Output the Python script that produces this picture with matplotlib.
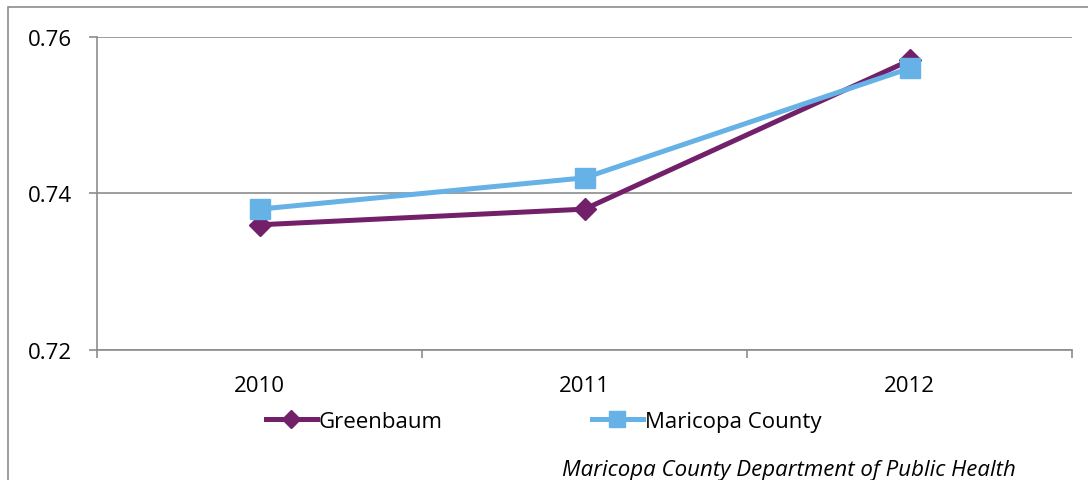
import numpy as np
import matplotlib
matplotlib.use('Agg')
import matplotlib.pyplot as plt
from matplotlib.patches import Rectangle

years = ['2010', '2011', '2012']
greenbaum = [0.736, 0.738, 0.757]
maricopa = [0.738, 0.742, 0.756]
y_ticks = [0.72, 0.74, 0.76]
source_note = 'Maricopa County Department of Public Health'

plt.rcParams['font.family'] = ['Open Sans', 'DejaVu Sans']

fig = plt.figure(figsize=(10.88, 4.81), dpi=100)
ax = fig.add_axes([0.0892, 0.2703, 0.8961, 0.6507])

# outer chart frame (cropped on right and bottom)
fig.patches.append(Rectangle((8 / 1088, -0.1), 1.2, 1 - 8 / 481 + 0.1,
                             transform=fig.transFigure, fill=False,
                             edgecolor='#8c8c8c', linewidth=1.2))

x = np.arange(len(years)) + 0.5
ax.plot(x, greenbaum, color='#73206a', linewidth=3.6, marker='D',
        markersize=11, label='Greenbaum', zorder=3)
ax.plot(x, maricopa, color='#66b1e6', linewidth=3.6, marker='s',
        markersize=14, label='Maricopa County', zorder=4)

ax.set_xlim(0, len(years))
ax.set_ylim(0.72, 0.76)
ax.set_yticks(y_ticks)
ax.set_yticklabels([f'{v:.2f}' for v in y_ticks])
ax.set_xticks(np.arange(len(years) + 1))
ax.set_xticklabels([])
ax.set_xticks(x, minor=True)
ax.set_xticklabels(years, minor=True)

ax.tick_params(axis='y', direction='out', length=6, width=1.2,
               color='#8c8c8c', labelsize=16, pad=12)
ax.tick_params(axis='x', which='major', direction='out', length=6,
               width=1.2, color='#8c8c8c')
ax.tick_params(axis='x', which='minor', length=0, labelsize=16, pad=18)

for side in ['top', 'right']:
    ax.spines[side].set_visible(False)
for side in ['left', 'bottom']:
    ax.spines[side].set_color('#8c8c8c')
    ax.spines[side].set_linewidth(1.2)

ax.yaxis.grid(True, color='#8c8c8c', linewidth=1.2)
ax.set_axisbelow(True)

ax.legend(loc='upper center', bbox_to_anchor=(0.458, -0.13), ncol=2,
          frameon=False, fontsize=16, handlelength=2.3, handletextpad=0.1,
          columnspacing=6.7, markerscale=0.8)

fig.text(0.517, 5 / 481, source_note, fontsize=16, style='italic',
         va='baseline')

fig.savefig('out.png', dpi=100)
